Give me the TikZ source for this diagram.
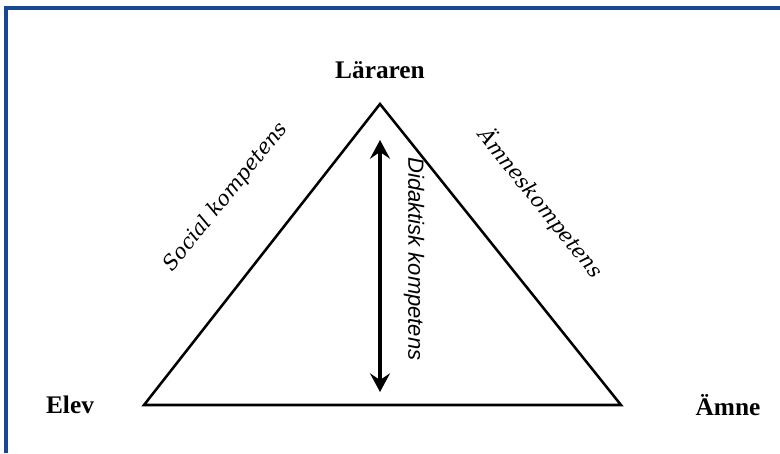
\documentclass[tikz,border=0pt]{standalone}
\usepackage{fontspec}
\setmainfont{Liberation Serif}
\newfontfamily\slantserif{DejaVu Serif}
\setsansfont{Liberation Sans}
\usepackage{xcolor}
\usetikzlibrary{arrows.meta}
\definecolor{frameblue}{RGB}{22,72,150}

\begin{document}
\begin{tikzpicture}[x=0.75pt,y=-0.75pt,
    corner/.style={font=\fontsize{19}{22}\selectfont\bfseries},
    sidelabel/.style={font=\slantserif\itshape\fontsize{15.5}{18}\selectfont},
    edge/.style={line width=1.9pt,line join=miter},
    twoway/.style={line width=2.3pt,{Stealth[length=14pt,width=15pt,inset=5pt]}-{Stealth[length=14pt,width=15pt,inset=5pt]}}]
    \useasboundingbox (0,0) rectangle (780,453);
    % frame
    \draw [line width=2.3pt,color=frameblue] (6,453) -- (6,8) -- (780,8);
    % corners of the triangle
    \coordinate (top) at (380,104);
    \coordinate (left) at (144,405);
    \coordinate (right) at (621,405);
    \draw [edge] (top) -- (left) -- (right) -- cycle;
    \node[corner] (lararen) at (380,70) {Läraren};
    \node[corner] (elev) at (70,405) {Elev};
    \node[corner] (amne) at (728,405) {Ämne};
    % competences
    \coordinate (arrowtop) at (380,140);
    \coordinate (arrowbottom) at (380,392);
    \draw [twoway] (arrowtop) -- (arrowbottom);
    \node[rotate=-90,font=\sffamily\itshape\fontsize{16.5}{18}\selectfont] (didaktisk) at (414,259) {Didaktisk kompetens};
    \node[sidelabel,rotate=51] (social) at (226,197) {Social kompetens};
    \node[sidelabel,rotate=-51] (amnes) at (541,203) {Ämneskompetens};
\end{tikzpicture}
\end{document}
